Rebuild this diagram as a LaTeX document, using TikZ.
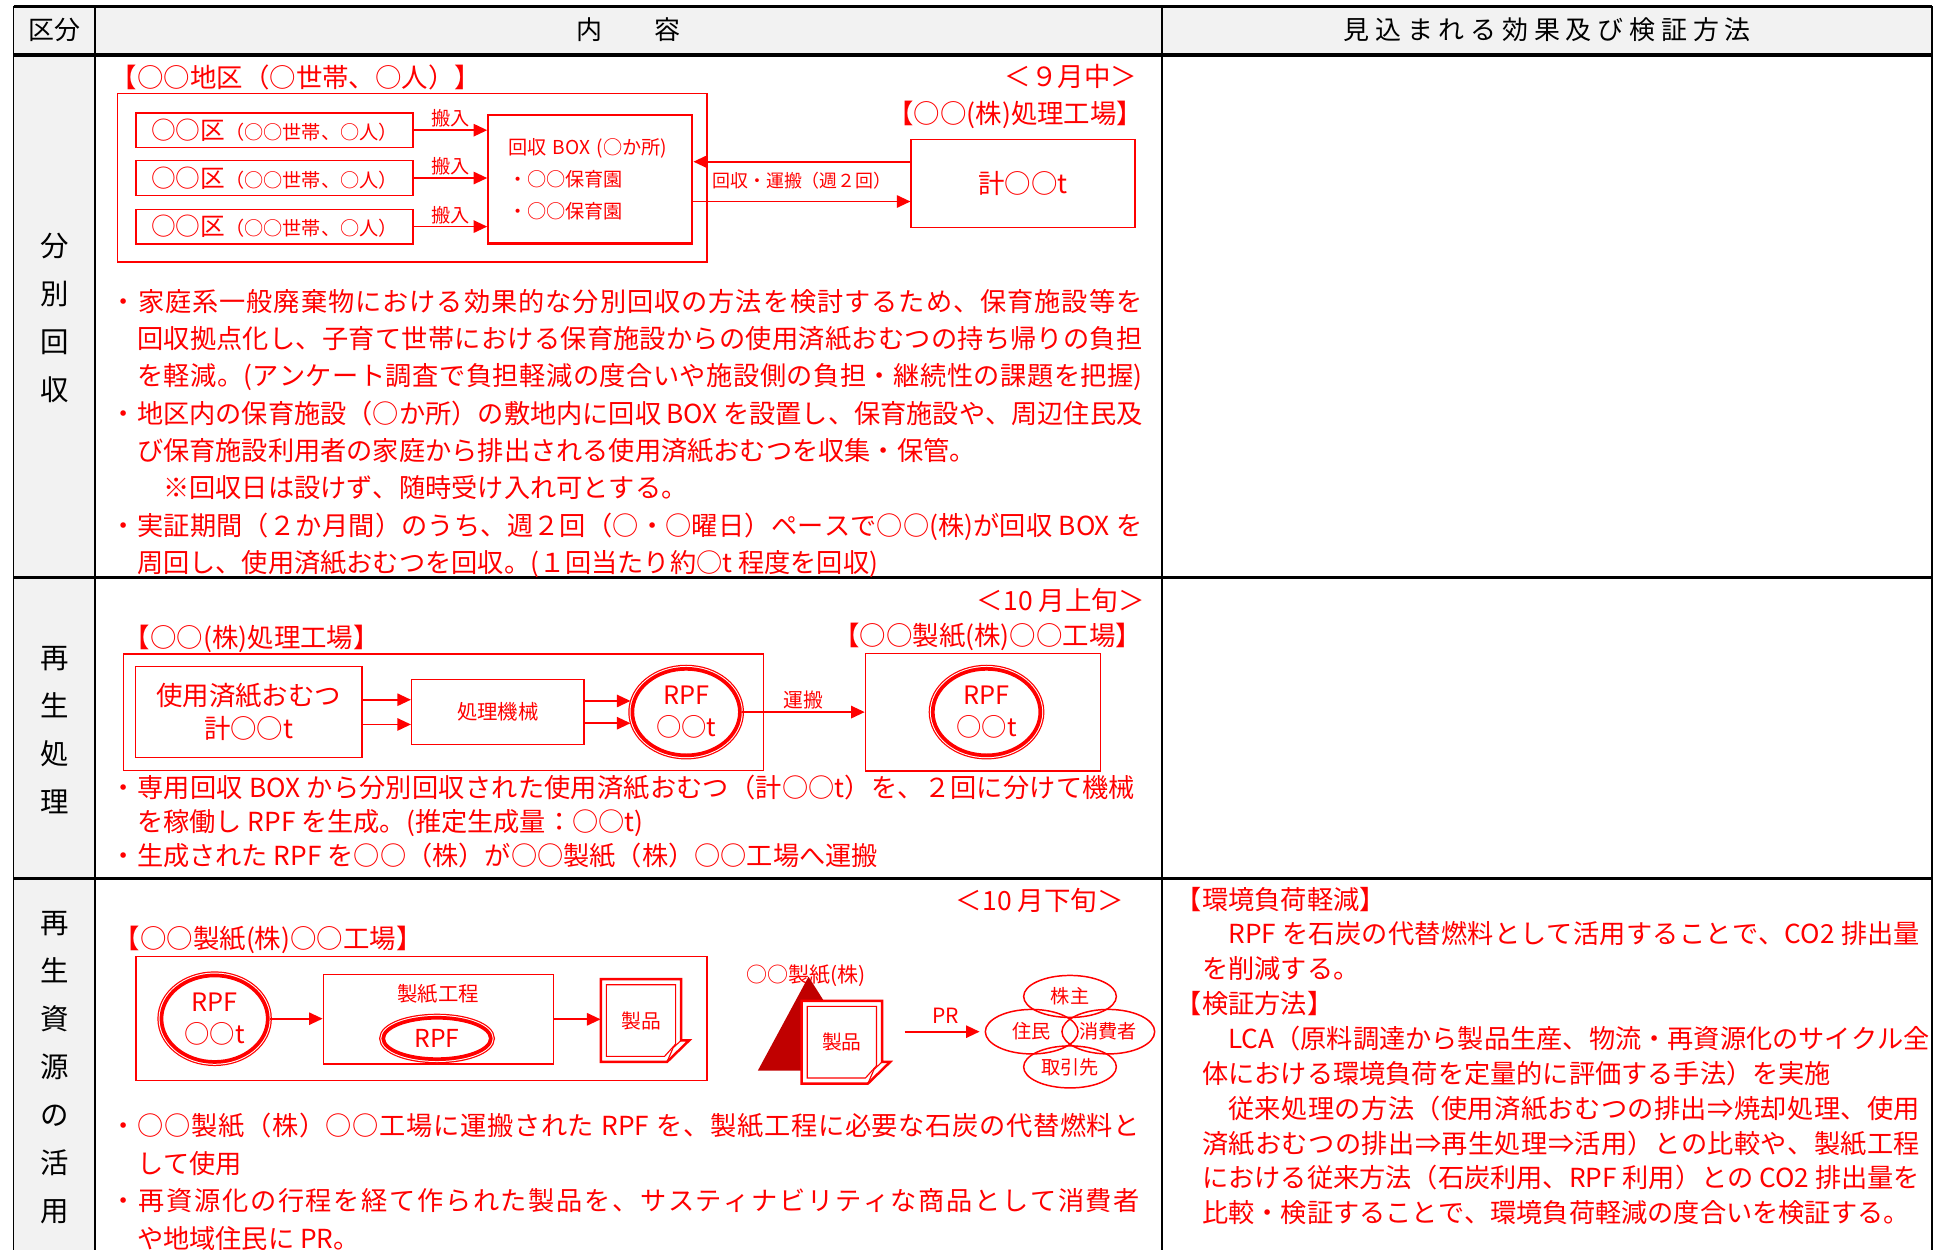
\documentclass[tikz,border=0pt]{standalone}
\usepackage{fontspec}
\setmainfont{Noto Sans CJK JP}
\usetikzlibrary{arrows.meta, shapes.geometric, positioning}

\definecolor{jred}{RGB}{255,0,0}
\definecolor{deepred}{RGB}{192,0,0}
\definecolor{headgray}{RGB}{242,242,242}

% glue between CJK characters, so that full lines can be spread
\XeTeXinterchartokenstate=1
\makeatletter
\count@="2E80
\loop\ifnum\count@<"A000 \XeTeXcharclass\count@=10 \advance\count@ by 1 \repeat
\count@="FF00
\loop\ifnum\count@<"FFF0 \XeTeXcharclass\count@=10 \advance\count@ by 1 \repeat
\XeTeXcharclass"25CB=10 \XeTeXcharclass"203B=10 \XeTeXcharclass"21D2=10
\makeatother
\XeTeXinterchartoks 10 10 = {\hskip 0pt plus 1pt\relax}

\tikzset{
  sheet/.pic={
    \draw[draw=jred, line width=2pt, fill=white] (-32.5,-33.5) -- (32.5,-33.5) -- (32.5,16) -- (39,16) -- (21,33.5) -- (-32.5,33.5) -- cycle;
    \draw[draw=jred, line width=0.9pt] (-28,-29) -- (28,-29) -- (28,19) -- (19,29) -- (-28,29) -- cycle;
    \draw[draw=jred, line width=0.9pt] (32.5,16) -- (26,22) -- (21,33.5);
  }
}

\begin{document}
\begin{tikzpicture}[x=1pt, y=-1pt,
    every node/.style={inner sep=0pt, text=jred},
    rule/.style={draw=black, line width=2.6pt},
    vrule/.style={draw=black, line width=1.4pt},
    head/.style={text=black, font=\fontsize{21}{21}\selectfont},
    side/.style={text=black, align=center, font=\fontsize{23}{38.8}\selectfont},
    title/.style={font=\fontsize{21.4}{21.4}\selectfont},
    small/.style={font=\fontsize{15.5}{15.5}\selectfont},
    body/.style={anchor=north west, align=left},
    box/.style={draw=jred, line width=1.1pt},
    arr/.style={draw=jred, line width=1.4pt, -{Triangle[length=11pt, width=10pt]}},
    rpf/.style={ellipse, fill=white, draw=jred, line width=3pt,
      preaction={draw=jred, line width=6.6pt},
      preaction={draw=white, line width=4.6pt},
      align=center, font=\fontsize{20.5}{26}\selectfont},
    party/.style={ellipse, draw=jred, line width=1.2pt, minimum width=75pt, small}]

    \useasboundingbox (0,0) rectangle (1566,1011);

    % table
    \fill[headgray] (11,5) rectangle (1563,44.5);
    \fill[headgray] (11,44.5) rectangle (77,1015);
    \draw[vrule] (11,5) -- (11,1015);
    \draw[vrule] (77,5) -- (77,1015);
    \draw[vrule] (940,5) -- (940,1015);
    \draw[vrule] (1563,5) -- (1563,1015);
    \draw[rule] (11,5) -- (1563,5);
    \draw[rule] (11,44.5) -- (1563,44.5);
    \draw[rule] (11,467) -- (1563,467);
    \draw[rule] (11,710.5) -- (1563,710.5);

    \node[head] (hkubun) at (44,24) {区分};
    \node[head] (hnaiyo) at (508.5,24) {内　　容};
    \node[head] (hkoka) at (1251.5,24) {見 込 ま れ る 効 果 及 び 検 証 方 法};

    \node[side] (s1) at (44,257.5) {分\\別\\回\\収};
    \node[side] (s2) at (44,590.5) {再\\生\\処\\理};
    \node[side] (s3) at (44,863.4) {再\\生\\資\\源\\の\\活\\用};

    % row 1: collection
    \node[title, anchor=west] (area) at (89.5,63) {【○○地区（○世帯、○人）】};
    \node[title, anchor=east] (when1) at (920,62) {＜９月中＞};
    \node[title, anchor=east] (plant1) at (925,93) {【○○(株)処理工場】};
    \node[box, minimum width=477pt, minimum height=136.5pt] (dist) at (333.5,143.75) {};
    \node[box, minimum width=224pt, minimum height=28pt] (ku1) at (222,105.3) {{\fontsize{20}{20}\selectfont ○○区}{\fontsize{15.5}{15.5}\selectfont（○○世帯、○人）}};
    \node[box, minimum width=224pt, minimum height=28pt] (ku2) at (222,144) {{\fontsize{20}{20}\selectfont ○○区}{\fontsize{15.5}{15.5}\selectfont（○○世帯、○人）}};
    \node[box, minimum width=224pt, minimum height=28pt] (ku3) at (222,183.3) {{\fontsize{20}{20}\selectfont ○○区}{\fontsize{15.5}{15.5}\selectfont（○○世帯、○人）}};
    \node[box, line width=1.8pt, minimum width=165pt, minimum height=104pt, text width=133pt, align=left, font=\fontsize{15.5}{26}\selectfont] (bx) at (477.5,145) {回収 BOX (○か所)\\・○○保育園\\・○○保育園};
    \node[box, title, minimum width=181pt, minimum height=71pt] (fac) at (827.5,148.5) {計○○t};

    \draw[arr] (ku1.east) -- (ku1.east -| bx.west) node[midway, above=1.5pt, small] (in1) {搬入};
    \draw[arr] (ku2.east) -- (ku2.east -| bx.west) node[midway, above=1.5pt, small] (in2) {搬入};
    \draw[arr] (ku3.east) -- (ku3.east -| bx.west) node[midway, above=1.5pt, small] (in3) {搬入};
    \draw[arr] ([yshift=17.7pt]fac.west) -- ([yshift=14.2pt]bx.east);
    \draw[arr] ([yshift=-18pt]bx.east) -- ([yshift=-14.5pt]fac.west) node[midway, above=9pt, font=\fontsize{14.5}{14.5}\selectfont] (haul1) {回収・運搬（週２回）};

    \node[body, font=\fontsize{21.2}{30.2}\selectfont] (txt1) at (89.5,233.5) {\makebox[834.5pt][s]{・家庭系一般廃棄物における効果的な分別回収の方法を検討するため、保育施設等を}\\
      \hspace*{1em}\makebox[813.3pt][s]{回収拠点化し、子育て世帯における保育施設からの使用済紙おむつの持ち帰りの負担}\\
      \hspace*{1em}\makebox[813.3pt][s]{を軽減。(アンケート調査で負担軽減の度合いや施設側の負担・継続性の課題を把握)}\\
      \makebox[834.5pt][s]{・地区内の保育施設（○か所）の敷地内に回収 BOX を設置し、保育施設や、周辺住民及}\\
      \hspace*{1em}び保育施設利用者の家庭から排出される使用済紙おむつを収集・保管。\\
      \hspace*{2em}※回収日は設けず、随時受け入れ可とする。\\
      \makebox[834.5pt][s]{・実証期間（２か月間）のうち、週２回（○・○曜日）ペースで○○(株)が回収 BOX を}\\
      \hspace*{1em}周回し、使用済紙おむつを回収。(１回当たり約○t 程度を回収)};

    % row 2: recycling
    \node[title, anchor=east] (when2) at (926,485.5) {＜10 月上旬＞};
    \node[title, anchor=west] (plant2t) at (100,517) {【○○(株)処理工場】};
    \node[title, anchor=east] (mill2t) at (924,515) {【○○製紙(株)○○工場】};
    \node[box, minimum width=517.5pt, minimum height=94pt] (plant2) at (358.75,576) {};
    \node[box, minimum width=183pt, minimum height=73.5pt, align=center, font=\fontsize{21.4}{27}\selectfont] (diaper) at (201.2,576) {使用済紙おむつ\\計○○t};
    \node[box, minimum width=139.5pt, minimum height=52.5pt, font=\fontsize{16.5}{16.5}\selectfont] (mach) at (402.7,576) {処理機械};
    \node[rpf, minimum width=87pt, minimum height=70pt] (rpf1) at (555,576) {RPF\\○○t};
    \node[box, minimum width=190pt, minimum height=95pt] (mill2) at (795,576) {};
    \node[rpf, minimum width=87pt, minimum height=70pt] (rpf2) at (798,576) {RPF\\○○t};

    \draw[arr, transform canvas={yshift=10pt}] (diaper) -- (mach);
    \draw[arr, transform canvas={yshift=-10pt}] (diaper) -- (mach);
    \draw[arr, transform canvas={yshift=9pt}] (mach) -- (rpf1);
    \draw[arr, transform canvas={yshift=-9pt}] (mach) -- (rpf1);
    \draw[arr] (rpf1) -- (rpf1 -| mill2.west) node[midway, above=1.5pt, font=\fontsize{16}{16}\selectfont] (haul2) {運搬};

    \node[body, font=\fontsize{21.2}{27.5}\selectfont] (txt2) at (89.5,626.7) {\makebox[828.5pt][s]{・専用回収 BOX から分別回収された使用済紙おむつ（計○○t）を、２回に分けて機械}\\
      \hspace*{1em}を稼働し RPF を生成。(推定生成量：○○t)\\
      ・生成された RPF を○○（株）が○○製紙（株）○○工場へ運搬};

    % row 3: use of the recycled resource
    \node[title, anchor=east] (when3) at (909,728) {＜10 月下旬＞};
    \node[title, anchor=west] (mill3t) at (91.8,760) {【○○製紙(株)○○工場】};
    \node[box, minimum width=462pt, minimum height=100.5pt] (mill3) at (341,823.75) {};
    \node[rpf, minimum width=86pt, minimum height=70pt] (rpf3) at (173.6,824) {RPF\\○○t};
    \node[box, minimum width=186pt, minimum height=72.3pt] (proc) at (354.5,824.5) {};
    \node[below=8.5pt of proc.north, font=\fontsize{16.5}{16.5}\selectfont] (proct) {製紙工程};
    \node[rpf, minimum width=87pt, minimum height=33.5pt, font=\fontsize{20}{20}\selectfont] (rpf4) at (353.5,840) {RPF};
    \pic at (518.5,825.5) {sheet};
    \node[minimum width=65pt, minimum height=67pt, font=\fontsize{16}{16}\selectfont] (prod1) at (518.5,825.5) {製品};

    \draw[arr] (rpf3) -- (rpf3 -| proc.west);
    \draw[arr] (proc) -- (proc -| prod1.west);

    \node[font=\fontsize{17}{17}\selectfont] (corp) at (652,789) {○○製紙(株)};
    \fill[deepred] (613,866) -- (654,790) -- (702,866) -- cycle;
    \pic at (681,843) {sheet};
    \node[minimum width=65pt, minimum height=67pt, font=\fontsize{16}{16}\selectfont] (prod2) at (681,843) {製品};

    \node[party, minimum height=34pt] (kabu) at (865.5,806) {株主};
    \node[party, minimum height=36pt] (jumin) at (834.5,834.5) {住民};
    \node[party, minimum height=36pt] (shohi) at (896.5,834.5) {消費者};
    \node[party, minimum height=34pt] (tori) at (865.5,863) {取引先};
    \draw[arr, shorten <=18pt, shorten >=4pt] (prod2.east |- jumin.west) -- (jumin.west) node[pos=0.62, above=6pt, font=\fontsize{17}{17}\selectfont] (pr) {PR};

    \node[body, font=\fontsize{21.2}{30.5}\selectfont] (txt3) at (89.5,900.2) {\makebox[832.5pt][s]{・○○製紙（株）○○工場に運搬された RPF を、製紙工程に必要な石炭の代替燃料と}\\
      \hspace*{1em}して使用\\
      \makebox[832.5pt][s]{・再資源化の行程を経て作られた製品を、サスティナビリティな商品として消費者}\\
      \hspace*{1em}や地域住民に PR。};

    \node[body, font=\fontsize{21.2}{28.2}\selectfont] (eff) at (951,717.2) {【環境負荷軽減】\\
      \hspace*{2em}\makebox[559.6pt][s]{RPF を石炭の代替燃料として活用することで、CO2 排出量}\\
      \hspace*{1em}を削減する。\\
      【検証方法】\\
      \hspace*{2em}\makebox[556pt][s]{LCA（原料調達から製品生産、物流・再資源化のサイクル全}\\
      \hspace*{1em}体における環境負荷を定量的に評価する手法）を実施\\
      \hspace*{2em}\makebox[559.6pt][s]{従来処理の方法（使用済紙おむつの排出⇒焼却処理、使用}\\
      \hspace*{1em}\makebox[580.8pt][s]{済紙おむつの排出⇒再生処理⇒活用）との比較や、製紙工程}\\
      \hspace*{1em}\makebox[580.8pt][s]{における従来方法（石炭利用、RPF 利用）との CO2 排出量を}\\
      \hspace*{1em}比較・検証することで、環境負荷軽減の度合いを検証する。};
\end{tikzpicture}
\end{document}
